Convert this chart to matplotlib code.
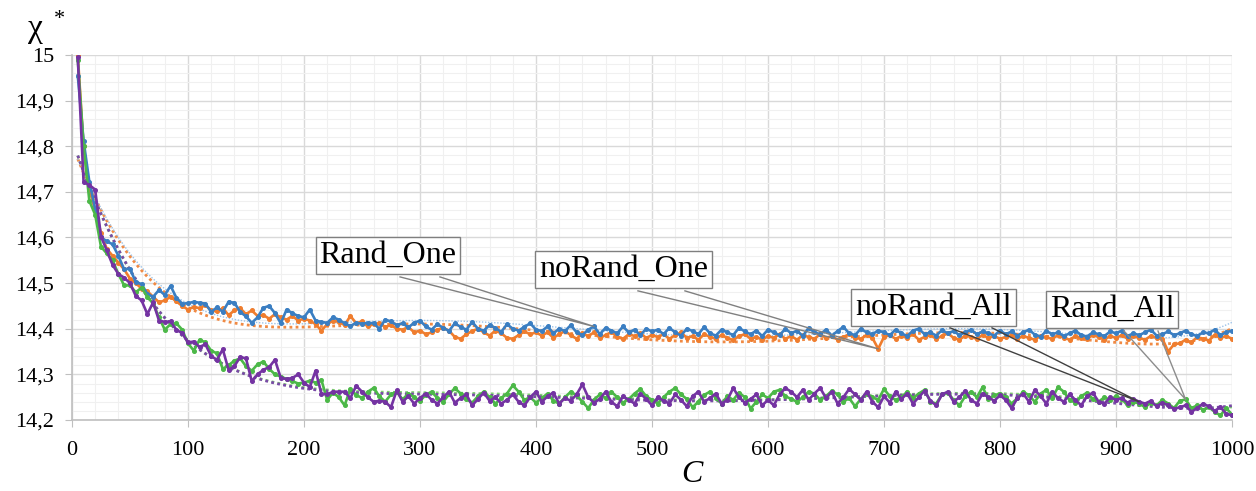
import matplotlib
matplotlib.use("Agg")
import matplotlib.pyplot as plt
import numpy as np
from matplotlib.ticker import FuncFormatter, MultipleLocator

C = np.arange(5, 1001, 5)

RAND_ONE = [
    14.955, 14.812, 14.722, 14.662, 14.600, 14.592, 14.585, 14.560, 14.530, 14.532,
    14.502, 14.498, 14.476, 14.470, 14.485, 14.474, 14.494, 14.468, 14.455, 14.456,
    14.459, 14.457, 14.455, 14.437, 14.447, 14.437, 14.459, 14.457, 14.437, 14.427,
    14.413, 14.425, 14.446, 14.450, 14.434, 14.412, 14.442, 14.434, 14.428, 14.425,
    14.442, 14.418, 14.415, 14.413, 14.425, 14.420, 14.412, 14.406, 14.413, 14.411,
    14.413, 14.412, 14.400, 14.420, 14.416, 14.408, 14.412, 14.403, 14.413, 14.418,
    14.405, 14.398, 14.410, 14.402, 14.395, 14.412, 14.404, 14.398, 14.415, 14.400,
    14.396, 14.408, 14.402, 14.393, 14.410, 14.400, 14.396, 14.404, 14.412, 14.398,
    14.395, 14.405, 14.390, 14.400, 14.395, 14.408, 14.392, 14.386, 14.398, 14.405,
    14.388, 14.402, 14.396, 14.390, 14.405, 14.392, 14.398, 14.386, 14.400, 14.394,
    14.398, 14.388, 14.402, 14.392, 14.385, 14.400, 14.395, 14.388, 14.404, 14.390,
    14.385, 14.398, 14.392, 14.386, 14.402, 14.394, 14.388, 14.396, 14.384, 14.398,
    14.392, 14.386, 14.400, 14.390, 14.396, 14.384, 14.402, 14.392, 14.388, 14.398,
    14.385, 14.395, 14.404, 14.390, 14.386, 14.400, 14.392, 14.388, 14.396, 14.392,
    14.386, 14.398, 14.390, 14.384, 14.396, 14.400, 14.388, 14.392, 14.385, 14.397,
    14.390, 14.395, 14.386, 14.392, 14.398, 14.388, 14.394, 14.390, 14.385, 14.396,
    14.388, 14.394, 14.385, 14.392, 14.398, 14.387, 14.383, 14.395, 14.388, 14.392,
    14.384, 14.390, 14.396, 14.386, 14.383, 14.392, 14.388, 14.384, 14.394, 14.390,
    14.396, 14.384, 14.390, 14.386, 14.392, 14.398, 14.385, 14.388, 14.394, 14.386,
    14.390, 14.396, 14.388, 14.384, 14.392, 14.390, 14.398, 14.386, 14.392, 14.396,
]

NORAND_ONE = [
    15.000, 14.800, 14.705, 14.660, 14.610, 14.575, 14.560, 14.545, 14.530, 14.510,
    14.500, 14.488, 14.482, 14.470, 14.458, 14.462, 14.470, 14.460, 14.450, 14.442,
    14.448, 14.445, 14.452, 14.440, 14.438, 14.445, 14.430, 14.440, 14.445, 14.432,
    14.440, 14.428, 14.430, 14.422, 14.432, 14.425, 14.420, 14.428, 14.418, 14.422,
    14.418, 14.410, 14.396, 14.410, 14.418, 14.415, 14.408, 14.428, 14.412, 14.416,
    14.405, 14.410, 14.412, 14.404, 14.408, 14.400, 14.398, 14.404, 14.392, 14.396,
    14.388, 14.392, 14.398, 14.402, 14.396, 14.382, 14.378, 14.388, 14.395, 14.400,
    14.392, 14.385, 14.396, 14.390, 14.380, 14.378, 14.386, 14.394, 14.388, 14.392,
    14.385, 14.392, 14.380, 14.388, 14.395, 14.386, 14.378, 14.390, 14.384, 14.392,
    14.380, 14.386, 14.393, 14.382, 14.378, 14.388, 14.384, 14.390, 14.380, 14.386,
    14.382, 14.388, 14.378, 14.386, 14.392, 14.380, 14.384, 14.376, 14.388, 14.382,
    14.378, 14.386, 14.380, 14.375, 14.384, 14.388, 14.378, 14.382, 14.376, 14.384,
    14.380, 14.388, 14.378, 14.384, 14.376, 14.386, 14.382, 14.378, 14.388, 14.380,
    14.384, 14.376, 14.382, 14.388, 14.380, 14.378, 14.386, 14.380, 14.356, 14.382,
    14.386, 14.378, 14.384, 14.380, 14.388, 14.376, 14.382, 14.386, 14.378, 14.384,
    14.390, 14.380, 14.376, 14.385, 14.382, 14.378, 14.386, 14.380, 14.384, 14.378,
    14.382, 14.386, 14.378, 14.384, 14.380, 14.376, 14.385, 14.381, 14.378, 14.386,
    14.380, 14.376, 14.384, 14.380, 14.378, 14.386, 14.382, 14.376, 14.384, 14.380,
    14.386, 14.378, 14.384, 14.380, 14.376, 14.384, 14.380, 14.378, 14.350, 14.366,
    14.368, 14.376, 14.370, 14.382, 14.378, 14.374, 14.386, 14.380, 14.384, 14.378,
]

NORAND_ALL = [
    14.995, 14.722, 14.715, 14.705, 14.602, 14.572, 14.540, 14.520, 14.512, 14.500,
    14.472, 14.462, 14.432, 14.458, 14.418, 14.415, 14.416, 14.398, 14.390, 14.370,
    14.372, 14.360, 14.366, 14.340, 14.332, 14.355, 14.310, 14.318, 14.338, 14.335,
    14.285, 14.300, 14.310, 14.316, 14.332, 14.292, 14.290, 14.292, 14.300, 14.282,
    14.272, 14.308, 14.258, 14.256, 14.262, 14.262, 14.262, 14.248, 14.275, 14.262,
    14.250, 14.240, 14.242, 14.240, 14.228, 14.265, 14.240, 14.252, 14.236, 14.248,
    14.258, 14.244, 14.236, 14.250, 14.262, 14.238, 14.248, 14.256, 14.232, 14.246,
    14.260, 14.242, 14.250, 14.236, 14.244, 14.256, 14.240, 14.232, 14.250, 14.262,
    14.240, 14.252, 14.260, 14.236, 14.248, 14.242, 14.256, 14.278, 14.250, 14.238,
    14.246, 14.262, 14.240, 14.230, 14.252, 14.244, 14.236, 14.258, 14.246, 14.232,
    14.250, 14.242, 14.236, 14.256, 14.244, 14.230, 14.252, 14.262, 14.240, 14.248,
    14.258, 14.236, 14.244, 14.270, 14.250, 14.238, 14.246, 14.256, 14.232, 14.244,
    14.232, 14.256, 14.270, 14.262, 14.250, 14.266, 14.244, 14.258, 14.270, 14.248,
    14.262, 14.236, 14.250, 14.268, 14.256, 14.244, 14.262, 14.240, 14.228, 14.252,
    14.238, 14.262, 14.246, 14.258, 14.236, 14.250, 14.264, 14.242, 14.232, 14.256,
    14.262, 14.240, 14.250, 14.264, 14.244, 14.236, 14.258, 14.250, 14.242, 14.254,
    14.244, 14.226, 14.248, 14.258, 14.240, 14.266, 14.252, 14.236, 14.262, 14.248,
    14.240, 14.256, 14.244, 14.232, 14.252, 14.260, 14.240, 14.236, 14.250, 14.244,
    14.248, 14.238, 14.246, 14.240, 14.236, 14.242, 14.230, 14.238, 14.232, 14.224,
    14.228, 14.232, 14.218, 14.226, 14.236, 14.230, 14.220, 14.228, 14.214, 14.210,
]

RAND_ALL = [
    14.990, 14.800, 14.680, 14.650, 14.580, 14.565, 14.550, 14.520, 14.495, 14.495,
    14.480, 14.490, 14.470, 14.455, 14.425, 14.398, 14.410, 14.412, 14.398, 14.368,
    14.352, 14.376, 14.370, 14.352, 14.346, 14.312, 14.320, 14.330, 14.335, 14.318,
    14.308, 14.322, 14.328, 14.312, 14.300, 14.295, 14.290, 14.285, 14.280, 14.282,
    14.286, 14.282, 14.288, 14.244, 14.260, 14.250, 14.232, 14.268, 14.255, 14.248,
    14.262, 14.270, 14.252, 14.240, 14.256, 14.262, 14.245, 14.258, 14.250, 14.242,
    14.255, 14.262, 14.248, 14.240, 14.256, 14.270, 14.258, 14.246, 14.238, 14.252,
    14.262, 14.250, 14.236, 14.248, 14.258, 14.276, 14.262, 14.244, 14.250, 14.238,
    14.248, 14.258, 14.242, 14.236, 14.250, 14.262, 14.254, 14.240, 14.226, 14.244,
    14.256, 14.248, 14.262, 14.250, 14.238, 14.246, 14.258, 14.268, 14.252, 14.244,
    14.236, 14.250, 14.262, 14.270, 14.256, 14.246, 14.228, 14.240, 14.255, 14.262,
    14.248, 14.236, 14.252, 14.244, 14.260, 14.250, 14.225, 14.240, 14.256, 14.248,
    14.262, 14.266, 14.252, 14.246, 14.240, 14.250, 14.262, 14.258, 14.244, 14.252,
    14.264, 14.256, 14.240, 14.248, 14.230, 14.246, 14.258, 14.250, 14.244, 14.268,
    14.252, 14.244, 14.250, 14.262, 14.248, 14.258, 14.266, 14.240, 14.236, 14.256,
    14.260, 14.244, 14.232, 14.252, 14.262, 14.250, 14.272, 14.246, 14.254, 14.258,
    14.250, 14.236, 14.248, 14.262, 14.254, 14.240, 14.258, 14.266, 14.248, 14.272,
    14.262, 14.244, 14.238, 14.252, 14.260, 14.246, 14.240, 14.250, 14.244, 14.252,
    14.246, 14.232, 14.240, 14.236, 14.228, 14.238, 14.232, 14.244, 14.236, 14.226,
    14.242, 14.245, 14.226, 14.232, 14.222, 14.228, 14.218, 14.210, 14.226, 14.212,
]

# name, values, line colour, trend colour, trend width
SERIES = [
    ("noRand_One", NORAND_ONE, "#ef7d2e", "#f08a44", 2.0),
    ("Rand_One", RAND_ONE, "#3a7ec2", "#9cc2e8", 1.0),
    ("Rand_All", RAND_ALL, "#4cb848", "#7fcf70", 2.0),
    ("noRand_All", NORAND_ALL, "#7433a2", "#7a4aa8", 2.0),
]

# label, text centre (C, chi), leader base points on the box bottom, series, target C, line colour
CALLOUTS = [
    ("Rand_One", (272.4, 14.560), (282.8, 317.2), 14.5136, "Rand_One", 450, "#808080"),
    ("noRand_One", (475.4, 14.530), (487.9, 528.4), 14.483, "noRand_One", 695, "#808080"),
    ("noRand_All", (742.7, 14.447), (756.9, 793.1), 14.402, "noRand_All", 920, "#404040"),
    ("Rand_All", (896.6, 14.442), (906.9, 936.2), 14.395, "Rand_All", 960, "#8c8c8c"),
]

plt.rcParams["font.family"] = ["Liberation Serif", "DejaVu Serif"]


def run():
    fig = plt.figure(figsize=(12.56, 4.91), dpi=100)
    ax = fig.add_axes([0.0573, 0.1446, 0.9236, 0.7434])

    x_fit = np.linspace(5, 1000, 400)
    data = {}
    for name, vals, col, tcol, tlw in SERIES:
        y = np.asarray(vals)
        data[name] = y
        ax.plot(C, y, color=col, lw=1.9, marker="o", ms=2.6, zorder=3)
        # 6th order polynomial trendline, like the spreadsheet one
        coef = np.polyfit(C / 1000.0, y, 6)
        ax.plot(x_fit, np.polyval(coef, x_fit / 1000.0), color=tcol, lw=tlw,
                ls=(0, (1, 1.2)), zorder=2)

    ax.set_xlim(0, 1000)
    ax.set_ylim(14.2, 15.0)
    ax.xaxis.set_major_locator(MultipleLocator(100))
    ax.xaxis.set_minor_locator(MultipleLocator(20))
    ax.yaxis.set_major_locator(MultipleLocator(0.1))
    ax.yaxis.set_minor_locator(MultipleLocator(0.02))
    ax.grid(which="major", color="#d9d9d9", lw=1.0)
    ax.grid(which="minor", color="#f0f0f0", lw=0.8)
    ax.set_axisbelow(True)
    for side in ("top", "right"):
        ax.spines[side].set_visible(False)
    for side in ("left", "bottom"):
        ax.spines[side].set_color("#bfbfbf")
        ax.spines[side].set_linewidth(1.2)
    ax.tick_params(which="minor", length=0)
    ax.tick_params(which="major", length=5, color="#bfbfbf", labelsize=16)
    ax.tick_params(axis="x", pad=10)
    ax.tick_params(axis="y", pad=8)
    ax.yaxis.set_major_formatter(
        FuncFormatter(lambda v, _: ("%g" % round(v, 1)).replace(".", ",")))

    for label, (tx, ty), (b1, b2), by, target, xc, lcol in CALLOUTS:
        y = data[target]
        idx = int(np.where(C == xc)[0][0])
        tip = (C[idx], y[idx])
        ax.plot([b1, tip[0], b2], [by, tip[1], by], color=lcol, lw=1.0, zorder=4)
        ax.text(tx, ty, label, ha="center", va="center", fontsize=23, zorder=5,
                bbox=dict(boxstyle="square,pad=0.12", fc="white", ec="#7f7f7f", lw=1.0))

    fig.text(0.022, 0.941, "χ", fontsize=24, va="center")
    fig.text(0.047, 0.961, "*", fontsize=16, ha="center", va="center")
    fig.text(692 / 1256, 1 - 474 / 491, "C", fontsize=23,
             style="italic", ha="center", va="center")

    fig.savefig("out.png", dpi=100)


if __name__ == "__main__":
    run()
